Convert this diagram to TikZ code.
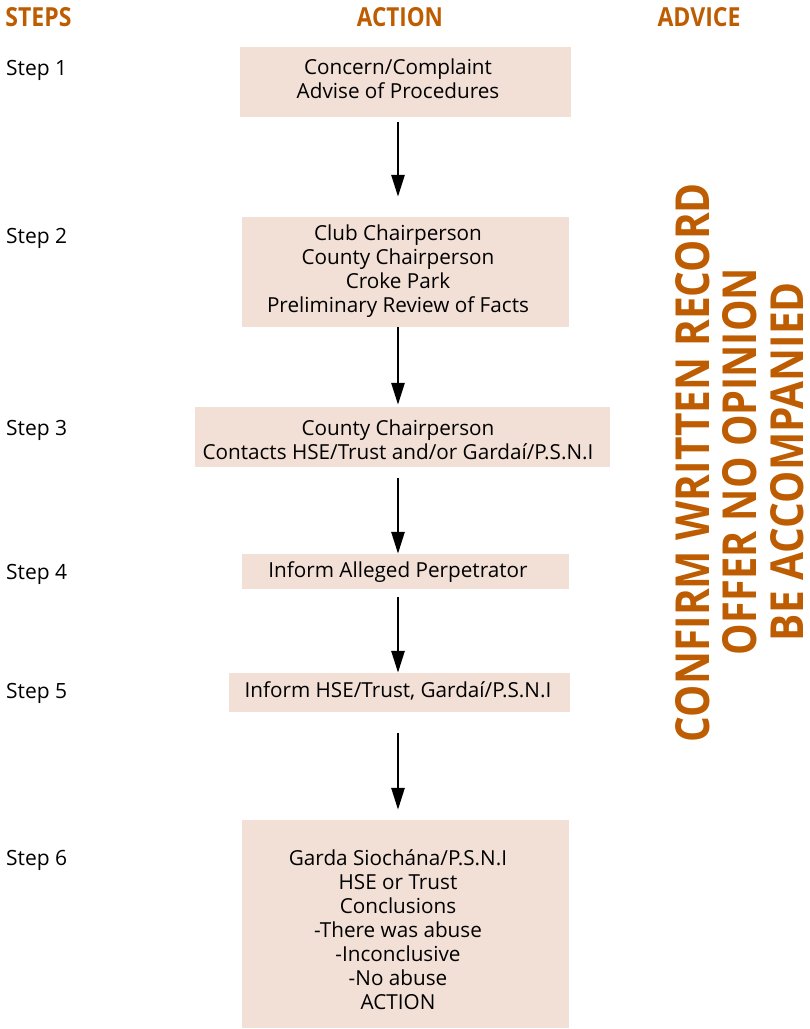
\documentclass[tikz,border=0pt]{standalone}
\usepackage{fontspec}
\usepackage{graphicx}
\setmainfont{Open Sans}
\usetikzlibrary{arrows.meta}
\definecolor{advorange}{RGB}{189,92,0}
\definecolor{boxfill}{RGB}{242,224,214}
\tikzset{
  box/.style={fill=boxfill, draw=none, inner sep=0pt},
  txt/.style={align=center, inner sep=0pt, font=\fontsize{20.7}{24}\selectfont, text=black},
  steplbl/.style={anchor=west, inner sep=0pt, font=\fontsize{21}{24}\selectfont},
  hdr/.style={inner sep=0pt, text=advorange},
  adv/.style={inner sep=0pt, text=advorange, rotate=90, anchor=base},
  arr/.style={-{Triangle[length=22pt,width=13pt]}, line width=2.8pt, black}
}
\begin{document}
\begin{tikzpicture}[x=1pt,y=-1pt]
\useasboundingbox (0,0) rectangle (810,1029);
% headers
\node[hdr] (hsteps) at (38.5,17) {\resizebox{66pt}{19pt}{\bfseries STEPS}};
\node[hdr] (haction) at (400,17) {\resizebox{86pt}{19pt}{\bfseries ACTION}};
\node[hdr] (hadvice) at (699,17) {\resizebox{83pt}{19pt}{\bfseries ADVICE}};
% boxes
\node[box, minimum width=331pt, minimum height=70pt] (b1) at (405.5,82) {};
\node[box, minimum width=327pt, minimum height=110pt] (b2) at (405.5,272) {};
\node[box, minimum width=415pt, minimum height=60pt] (b3) at (402.5,437) {};
\node[box, minimum width=327pt, minimum height=35pt] (b4) at (405.5,571.5) {};
\node[box, minimum width=341pt, minimum height=39pt] (b5) at (399.5,692.5) {};
\node[box, minimum width=327pt, minimum height=208pt] (b6) at (405.5,924) {};
% texts
\node[txt] (t1) at (398,78.5) {Concern/Complaint\\Advise of Procedures};
\node[txt] (t2) at (398,271) {Club Chairperson\\County Chairperson\\Croke Park\\Preliminary Review of Facts};
\node[txt] (t3) at (398,440) {County Chairperson\\Contacts HSE/Trust and/or Gardaí/P.S.N.I};
\node[txt] (t4) at (398,572) {Inform Alleged Perpetrator};
\node[txt] (t5) at (398,691) {Inform HSE/Trust, Gardaí/P.S.N.I};
\node[txt] (t6) at (398,930) {Garda Siochána/P.S.N.I\\HSE or Trust\\Conclusions\\-There was abuse\\-Inconclusive\\-No abuse\\ACTION};
% step labels
\node[steplbl] (s1) at (6,70) {Step 1};
\node[steplbl] (s2) at (6,238) {Step 2};
\node[steplbl] (s3) at (6,430) {Step 3};
\node[steplbl] (s4) at (6,574) {Step 4};
\node[steplbl] (s5) at (6,693) {Step 5};
\node[steplbl] (s6) at (6,860) {Step 6};
% arrows
\draw[arr, shorten <=5pt, shorten >=20pt] (b1.south -| t1.center) -- (b2.north -| t1.center);
\draw[arr, shorten <=0pt, shorten >=2pt] (b2.south -| t1.center) -- (b3.north -| t1.center);
\draw[arr, shorten <=11pt, shorten >=0pt] (b3.south -| t1.center) -- (b4.north -| t1.center);
\draw[arr, shorten <=8pt, shorten >=0pt] (b4.south -| t1.center) -- (b5.north -| t1.center);
\draw[arr, shorten <=21pt, shorten >=10pt] (b5.south -| t1.center) -- (b6.north -| t1.center);
% advice
\node[adv] (a1) at (709,462.5) {\resizebox{559pt}{34pt}{\bfseries CONFIRM WRITTEN RECORD}};
\node[adv] (a2) at (756,461.5) {\resizebox{387pt}{34pt}{\bfseries OFFER NO OPINION}};
\node[adv] (a3) at (803,461.5) {\resizebox{359pt}{33pt}{\bfseries BE ACCOMPANIED}};
\end{tikzpicture}
\end{document}
